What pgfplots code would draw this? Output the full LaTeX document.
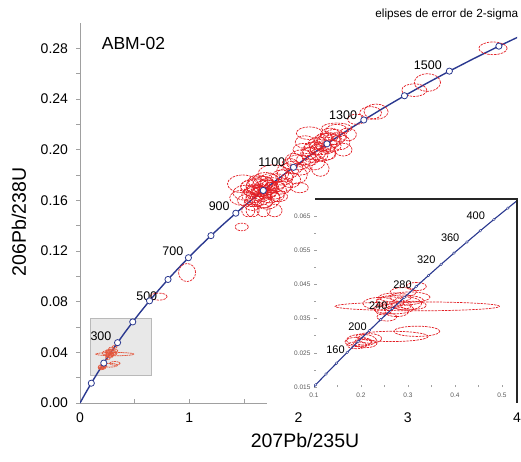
\documentclass[border=0pt]{standalone}
\usepackage{pgfplots}
\pgfplotsset{compat=1.18}
\usepackage{pgfplotstable}
\usepackage{fontspec}
\setmainfont{Liberation Sans}
\definecolor{conc}{HTML}{2B3990}
\definecolor{ellred}{HTML}{E31E24}
\definecolor{ellcoral}{HTML}{E4573D}
\definecolor{axgray}{HTML}{A0A0A0}

\pgfplotstableread{
t x y
0 0 0
50 0.05048 0.00779
100 0.10350 0.01563
150 0.15920 0.02354
200 0.21770 0.03151
250 0.27917 0.03954
300 0.34374 0.04764
350 0.41156 0.05580
400 0.48281 0.06402
450 0.55765 0.07230
500 0.63628 0.08065
550 0.71886 0.08906
600 0.80562 0.09754
650 0.89675 0.10609
700 0.99248 0.11470
750 1.09304 0.12338
800 1.19868 0.13213
850 1.30965 0.14094
900 1.42622 0.14983
950 1.54868 0.15878
1000 1.67731 0.16780
1050 1.81245 0.17689
1100 1.95450 0.18606
1150 2.10352 0.19529
1200 2.26030 0.20460
1250 2.42472 0.21398
1300 2.59778 0.22344
1350 2.77916 0.23296
1400 2.97010 0.24256
1450 3.17027 0.25224
1500 3.38100 0.26199
1550 3.60187 0.27181
1600 3.83413 0.28172
1650 4.07813 0.29170
}\concordia

\pgfplotstableread{
t x y
100 0.10350 0.01563
200 0.21770 0.03151
300 0.34374 0.04764
400 0.48281 0.06402
500 0.63628 0.08065
600 0.80562 0.09754
700 0.99248 0.11470
800 1.19868 0.13213
900 1.42622 0.14983
1000 1.67731 0.16780
1100 1.95450 0.18606
1200 2.26030 0.20460
1300 2.59778 0.22344
1400 2.97010 0.24256
1500 3.38100 0.26199
1600 3.83413 0.28172
}\concmarks

\pgfplotstableread{
t x y
80 0.08198 0.01249
100 0.10350 0.01563
120 0.12545 0.01879
140 0.14784 0.02196
160 0.17067 0.02513
180 0.19396 0.02832
200 0.21770 0.03151
220 0.24193 0.03472
240 0.26663 0.03793
260 0.29183 0.04116
280 0.31753 0.04439
300 0.34374 0.04764
320 0.37047 0.05089
340 0.39774 0.05416
360 0.42554 0.05743
380 0.45390 0.06072
400 0.48281 0.06402
420 0.51230 0.06732
440 0.54239 0.07064
}\concinset

% 2-sigma error ellipses: centre (x,y) and semi-axes (rx,ry)
\pgfplotstableread{
x y rx ry
1.62 0.166 0.10 0.006
1.66 0.168 0.09 0.005
1.70 0.170 0.11 0.006
1.64 0.163 0.12 0.007
1.72 0.167 0.08 0.005
1.58 0.164 0.10 0.006
1.68 0.172 0.10 0.007
1.75 0.172 0.12 0.006
1.60 0.170 0.13 0.007
1.67 0.160 0.10 0.006
1.74 0.163 0.09 0.005
1.55 0.160 0.11 0.005
1.80 0.175 0.10 0.006
1.78 0.168 0.11 0.007
1.63 0.175 0.09 0.005
1.70 0.176 0.12 0.006
1.52 0.166 0.12 0.006
1.85 0.178 0.10 0.006
1.58 0.157 0.08 0.005
1.71 0.161 0.12 0.008
1.65 0.167 0.07 0.004
1.69 0.165 0.06 0.004
1.61 0.169 0.08 0.004
1.73 0.171 0.07 0.005
1.66 0.171 0.14 0.008
1.64 0.169 0.05 0.003
1.68 0.168 0.05 0.003
1.71 0.173 0.06 0.004
1.62 0.162 0.06 0.004
1.76 0.170 0.06 0.004
1.57 0.167 0.07 0.004
1.66 0.165 0.09 0.006
1.73 0.176 0.08 0.005
1.60 0.160 0.09 0.005
1.79 0.164 0.08 0.005
1.69 0.158 0.07 0.004
1.63 0.171 0.11 0.006
1.56 0.171 0.09 0.005
1.84 0.170 0.09 0.005
1.75 0.166 0.05 0.004
1.49 0.173 0.14 0.007
1.49 0.162 0.12 0.006
1.77 0.181 0.14 0.007
1.58 0.152 0.06 0.005
1.68 0.152 0.06 0.005
1.78 0.152 0.07 0.005
1.54 0.152 0.06 0.005
1.48 0.139 0.06 0.003
1.82 0.163 0.08 0.004
2.01 0.170 0.08 0.004
1.90 0.183 0.10 0.006
1.95 0.186 0.09 0.005
2.00 0.190 0.11 0.006
2.04 0.194 0.12 0.006
1.98 0.180 0.10 0.007
2.08 0.192 0.10 0.005
2.12 0.196 0.09 0.006
2.15 0.199 0.11 0.007
2.20 0.202 0.10 0.006
2.22 0.198 0.12 0.007
2.18 0.205 0.09 0.005
2.25 0.204 0.10 0.006
2.28 0.207 0.11 0.006
2.30 0.203 0.09 0.005
2.33 0.210 0.10 0.006
2.10 0.213 0.12 0.005
2.20 0.185 0.08 0.006
2.38 0.206 0.09 0.006
2.41 0.200 0.08 0.005
2.35 0.215 0.10 0.005
2.45 0.212 0.08 0.005
2.35 0.217 0.14 0.004
2.05 0.200 0.10 0.005
2.26 0.196 0.08 0.004
1.93 0.176 0.09 0.006
2.14 0.190 0.10 0.006
1.87 0.172 0.08 0.005
2.24 0.209 0.08 0.004
2.17 0.200 0.06 0.004
2.23 0.203 0.07 0.004
2.27 0.201 0.06 0.004
2.19 0.196 0.08 0.005
2.31 0.208 0.07 0.004
2.13 0.202 0.08 0.004
2.29 0.212 0.09 0.005
2.21 0.207 0.07 0.005
2.37 0.210 0.07 0.004
2.09 0.197 0.07 0.005
1.96 0.192 0.08 0.005
2.02 0.185 0.09 0.005
1.92 0.189 0.07 0.004
2.06 0.206 0.09 0.005
1.88 0.180 0.08 0.005
2.53 0.224 0.08 0.004
2.66 0.229 0.10 0.005
2.71 0.230 0.11 0.006
3.06 0.247 0.115 0.005
3.18 0.253 0.12 0.007
3.78 0.280 0.13 0.005
0.98 0.103 0.078 0.0071
0.72 0.084 0.077 0.0028
}\mainell

\pgfplotstableread{
x y rx ry
0.240 0.0394 0.036 0.0018
0.283 0.0404 0.050 0.0015
0.269 0.0379 0.043 0.0015
0.304 0.0413 0.043 0.0015
0.311 0.0389 0.028 0.0012
0.255 0.0355 0.021 0.0012
0.290 0.0428 0.028 0.0013
0.318 0.0444 0.021 0.0012
0.297 0.0394 0.032 0.0019
0.276 0.0370 0.025 0.0014
0.248 0.0375 0.018 0.0014
0.262 0.0398 0.030 0.0016
0.285 0.0388 0.022 0.0011
0.272 0.0412 0.035 0.0013
0.320 0.0386 0.175 0.0013
0.201 0.0287 0.032 0.0017
0.209 0.0277 0.025 0.0012
0.194 0.0282 0.028 0.0014
0.219 0.0292 0.025 0.0014
0.191 0.0272 0.021 0.0010
0.205 0.0283 0.018 0.0010
0.319 0.0313 0.049 0.0015
0.266 0.0298 0.077 0.0015
}\smallell

\newcommand{\drawellipses}[2]{%
  \pgfplotstablegetrowsof{#1}%
  \pgfmathtruncatemacro{\nrows}{\pgfplotsretval-1}%
  \pgfplotsforeachungrouped \i in {0,...,\nrows}{%
    \pgfplotstablegetelem{\i}{x}\of{#1}\let\ex\pgfplotsretval
    \pgfplotstablegetelem{\i}{y}\of{#1}\let\ey\pgfplotsretval
    \pgfplotstablegetelem{\i}{rx}\of{#1}\let\erx\pgfplotsretval
    \pgfplotstablegetelem{\i}{ry}\of{#1}\let\ery\pgfplotsretval
    \edef\tmp{\noexpand\draw[#2] (axis cs:\ex,\ey) ellipse [x radius=\erx, y radius=\ery];}%
    \tmp
  }%
}

\tikzset{
  ellR/.style={draw=ellred, line width=0.7pt, dash pattern=on 2.4pt off 1pt},
  ellC/.style={draw=ellcoral, line width=0.75pt, dash pattern=on 1.8pt off 0.6pt},
}

\begin{document}
\begin{tikzpicture}
\useasboundingbox (-80pt,-58pt) rectangle (441pt,403pt);
\begin{axis}[
  scale only axis, width=437pt, height=380pt,
  xmin=0, xmax=4, ymin=0, ymax=0.30,
  axis lines*=left,
  axis line style={draw=axgray, line width=0.7pt},
  xtick={0,1,2,3,4}, minor x tick num=1,
  ytick={0,0.04,0.08,0.12,0.16,0.20,0.24,0.28}, minor y tick num=1,
  tick align=inside,
  major tick length=4pt, minor tick length=4pt,
  tick style={draw=axgray, line width=0.7pt},
  y tick style={xshift=-4pt},
  /pgf/number format/assume math mode=true,
  tick label style={font=\fontsize{14}{16}\selectfont},
  yticklabel style={/pgf/number format/fixed, /pgf/number format/fixed zerofill, /pgf/number format/precision=2, xshift=-8.5pt},
  xticklabel style={yshift=-6pt},
  scaled ticks=false,
  clip=true,
]
\fill[gray!18, draw=gray!55, line width=0.5pt] (axis cs:0.0915,0.0221) rectangle (axis cs:0.650,0.0671);
\addplot[conc, line width=1.4pt, no marks] table[x=x,y=y]{\concordia};
\drawellipses{\smallell}{ellC}
\drawellipses{\mainell}{ellR}
\addplot[only marks, mark=*, mark size=3.1pt, mark options={fill=white, draw=conc, line width=0.8pt}] table[x=x,y=y]{\concmarks};
\begin{scope}[font=\fontsize{12.5}{14}\selectfont]
\node at (axis cs:0.192,0.0529) {300};
\node at (axis cs:0.611,0.0847) {500};
\node at (axis cs:0.850,0.1195) {700};
\node at (axis cs:1.274,0.1550) {900};
\node at (axis cs:1.755,0.1905) {1100};
\node at (axis cs:2.408,0.2276) {1300};
\node at (axis cs:3.184,0.2668) {1500};
\end{scope}
\end{axis}

\node[anchor=base west, font=\fontsize{17.5}{20}\selectfont, inner sep=0pt] at (21.7pt,353.7pt) {ABM-02};
\node[anchor=base east, font=\fontsize{11.8}{13}\selectfont, inner sep=0pt] at (438.5pt,385.5pt) {elipses de error de 2-sigma};
\node[anchor=base, font=\fontsize{19.5}{22}\selectfont, inner sep=0pt] at (225pt,-44pt) {207Pb/235U};
\node[anchor=base, rotate=90, font=\fontsize{19.5}{22}\selectfont, inner sep=0pt] at (-54pt,181pt) {206Pb/238U};

\fill[white] (187pt,-1.5pt) rectangle (437.5pt,16pt);
\begin{axis}[
  at={(234pt,16pt)}, anchor=south west,
  scale only axis, width=203pt, height=188pt,
  xmin=0.1, xmax=0.532, ymin=0.015, ymax=0.070,
  axis lines*=left,
  axis line style={draw=none},
  axis background/.style={fill=white},
  xtick={0.1,0.2,0.3,0.4,0.5}, minor x tick num=1,
  ytick={0.015,0.025,0.035,0.045,0.055,0.065}, minor y tick num=1,
  tick align=inside, major tick length=2.5pt, minor tick length=2pt,
  tick style={draw=axgray, line width=0.5pt},
  /pgf/number format/assume math mode=true,
  scaled ticks=false,
  tick label style={font=\fontsize{6.5}{7}\selectfont, text=black!65},
  xticklabel style={/pgf/number format/fixed, /pgf/number format/fixed zerofill, /pgf/number format/precision=1, yshift=-2.5pt},
  yticklabel style={/pgf/number format/fixed, /pgf/number format/fixed zerofill, /pgf/number format/precision=3},
  clip=true,
]
\drawellipses{\smallell}{ellR}
\addplot[conc, line width=1.1pt, mark=*, mark size=1.3pt, mark options={fill=white, draw=conc, line width=0.4pt}] table[x=x,y=y]{\concinset};
\begin{scope}[font=\fontsize{11}{13}\selectfont]
\node at (axis cs:0.4443,0.0652) {400};
\node at (axis cs:0.3898,0.0586) {360};
\node at (axis cs:0.3388,0.0522) {320};
\node at (axis cs:0.2883,0.0449) {280};
\node at (axis cs:0.2368,0.0389) {240};
\node at (axis cs:0.1926,0.0326) {200};
\node at (axis cs:0.1458,0.0260) {160};
\end{scope}
\end{axis}
\draw[black!85, line width=1.3pt] (235pt,204pt) -- (437pt,204pt) -- (437pt,0pt);
\end{tikzpicture}
\end{document}
